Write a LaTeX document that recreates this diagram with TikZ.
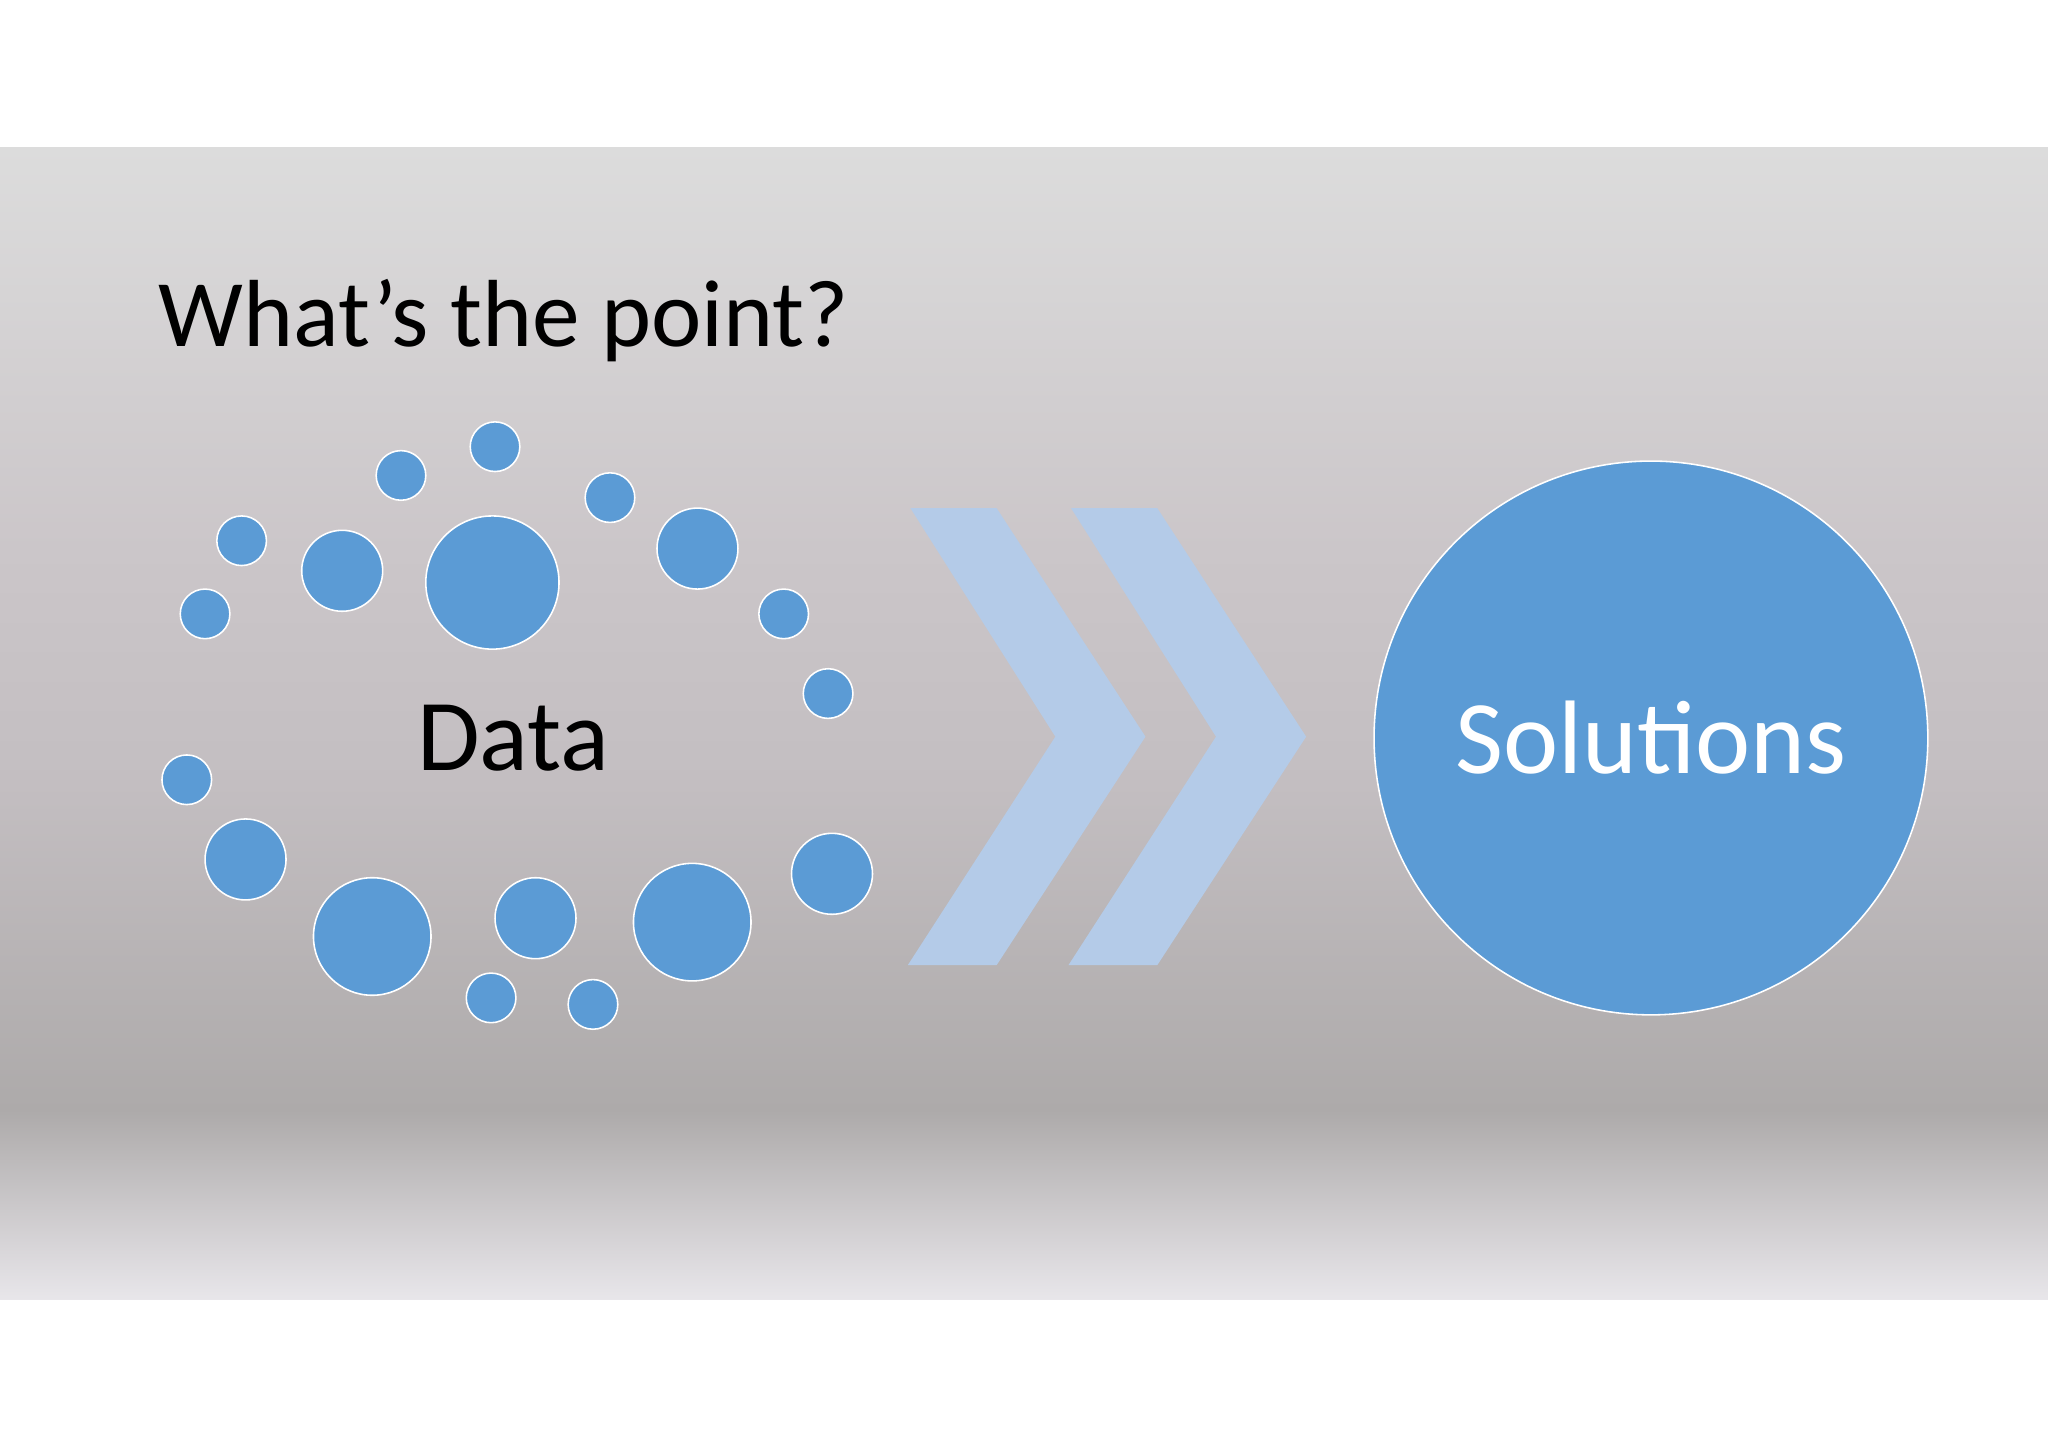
\documentclass[tikz,border=0pt]{standalone}
\usepackage{fontspec}
\setmainfont{Carlito}
\begin{document}
\begin{tikzpicture}[x=1pt,y=-1pt,
  dot/.style={circle,fill=cblue,draw=white,line width=1.2pt,inner sep=0pt},
  chev/.style={fill=chevc,draw=none}]
\definecolor{cblue}{HTML}{5B9BD5}
\definecolor{chevc}{HTML}{B4CBE8}
\useasboundingbox (0,0) rectangle (1568,1108);
\fill[white] (0,0) rectangle (1568,1108);
\shade[top color={rgb,255:red,220;green,220;blue,220},bottom color={rgb,255:red,203;green,198;blue,201}] (0,113) rectangle (1568,420.5);
\shade[top color={rgb,255:red,203;green,198;blue,201},bottom color={rgb,255:red,195;green,190;blue,193}] (0,420) rectangle (1568,600.5);
\shade[top color={rgb,255:red,195;green,190;blue,193},bottom color={rgb,255:red,173;green,170;blue,170}] (0,600) rectangle (1568,850.5);
\shade[top color={rgb,255:red,173;green,170;blue,170},bottom color={rgb,255:red,232;green,230;blue,234}] (0,850) rectangle (1568,995);
\node[anchor=base west,font=\fontsize{73}{80}\selectfont] (title) at (118,265) {What’s the point?};
\foreach \x/\y/\r [count=\i] in {379/342/19,307/364/19,467/381/19,185/414/19,262/437/31,377/446/51,534/420/31,157/470/19,600/470/19,634/531/19,143/597/19,188/658/31,285/717/45,410/703/31,530/706/45,637/669/31,376/764/19,454/769/19}
  \node[dot,minimum size=2*\r] (d\i) at (\x,\y) {};
\node[font=\fontsize{78}{80}\selectfont] (data) at (393,565) {Data};
\fill[chev] (697,389) -- (763,389) -- (877,564) -- (763,739) -- (695,739) -- (808,564) -- cycle;
\fill[chev] (820,389) -- (886,389) -- (1000,564) -- (886,739) -- (818,739) -- (931,564) -- cycle;
\node[dot,minimum size=424,text=white,font=\fontsize{80}{80}\selectfont] (sol) at (1264,565) {Solutions};
\end{tikzpicture}
\end{document}
